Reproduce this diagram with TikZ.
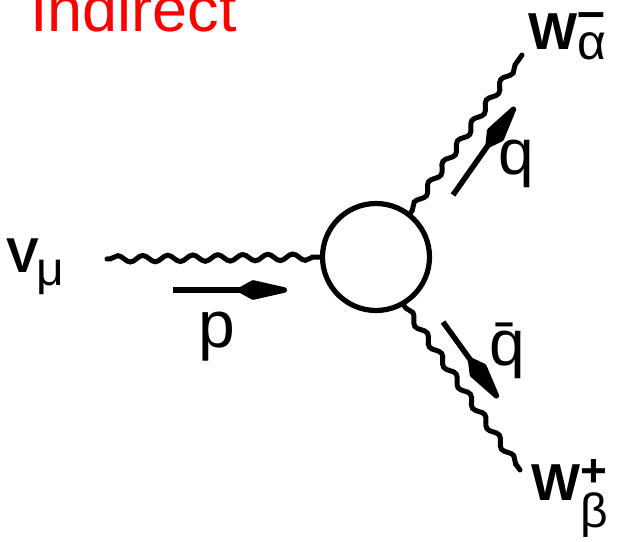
\documentclass[tikz,border=0pt]{standalone}
\usepackage{fontspec}
\setmainfont{Liberation Sans}
\usetikzlibrary{arrows.meta,decorations.pathmorphing}
\tikzset{
  wavy/.style={line width=5pt, line cap=round, decorate,
    decoration={snake, segment length=25pt, amplitude=3.2pt, pre length=3pt, post length=3pt}},
  mom/.style={line width=5.5pt, -{Kite[length=62pt,width=20pt,inset=18pt,round]}},
  lbl/.style={inner sep=0pt, font=\fontsize{50}{50}\selectfont}
}
\newcommand{\fsz}[1]{\fontsize{#1}{#1}\selectfont}
\begin{document}
\begin{tikzpicture}[x=1pt, y=1pt]
\useasboundingbox (0,0) rectangle (617,541);
\node[inner sep=0pt, anchor=base west, text=red, font=\fsz{63}] (title) at (30,509) {Indirect};
\node[draw, circle, line width=5.2pt, minimum size=107pt, inner sep=0pt] (blob) at (376,284) {};
\coordinate (nuend) at (107,282);
\coordinate (wmend) at (522,486);
\coordinate (wpend) at (520,71);
\draw[wavy] (nuend) -- (blob.west);
\draw[wavy] (blob.52) -- (wmend);
\draw[wavy] (blob.-60) -- (wpend);
\coordinate (pa) at (173,251);
\coordinate (pb) at (287,251);
\coordinate (qa) at (453,346);
\coordinate (qb) at (515,434);
\coordinate (qba) at (443,219);
\coordinate (qbb) at (498,143);
\draw[mom] (pa) -- (pb);
\draw[mom] (qa) -- (qb);
\draw[mom] (qba) -- (qbb);
\node[lbl, anchor=base west, font=\fsz{49}\bfseries] (nu) at (6,269) {V\kern-2pt\raisebox{-13pt}{\fsz{48}\mdseries μ}};
\node[lbl, anchor=base west, font=\fsz{52}\bfseries] (wm) at (528,491) {W\rlap{\raisebox{21pt}{\fsz{50}\bfseries –}}\raisebox{-10pt}{\fsz{50}\mdseries α}};
\node[lbl, anchor=base west, font=\fsz{52}\bfseries] (wp) at (531,41) {W\rlap{\raisebox{14pt}{\fsz{46}+}}\raisebox{-27pt}{\fsz{48}\mdseries β}};
\node[lbl, anchor=base, font=\fsz{66}] (plab) at (217,194) {p};
\node[lbl, anchor=base, font=\fsz{64}] (qlab) at (516,366) {q};
\node[lbl, anchor=base, font=\fsz{64}] (qblab) at (507,176) {\=q};
\end{tikzpicture}
\end{document}
